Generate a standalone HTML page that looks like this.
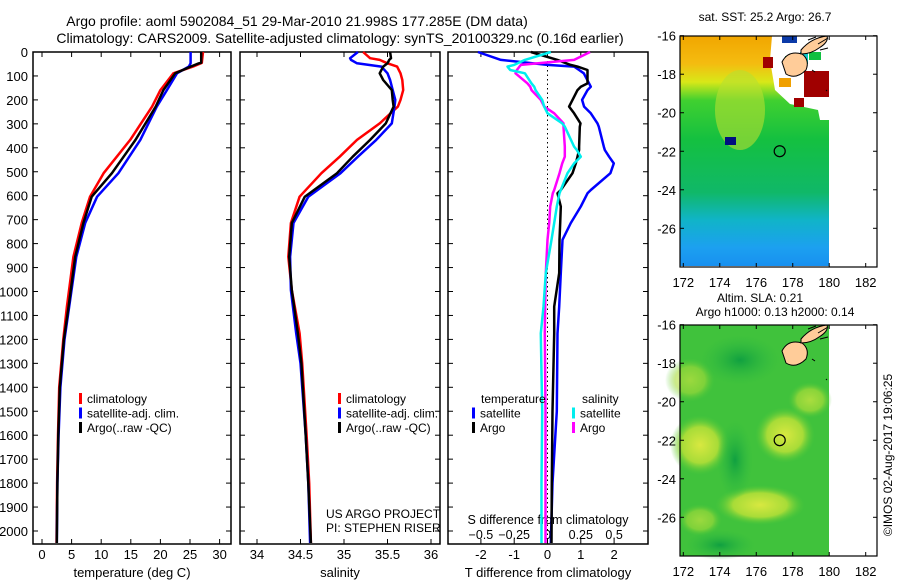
<!DOCTYPE html>
<html><head><meta charset="utf-8"><style>
html,body{margin:0;padding:0;background:#fff}
svg{display:block;font-family:"Liberation Sans",sans-serif}
</style></head><body>
<svg id="c" width="900" height="580" xmlns="http://www.w3.org/2000/svg">
<defs>
<linearGradient id="sstg" x1="0" y1="0" x2="0" y2="1">
<stop offset="0" stop-color="#f2a600"/><stop offset="0.12" stop-color="#f4bc10"/>
<stop offset="0.2" stop-color="#d8e818"/><stop offset="0.28" stop-color="#40d030"/>
<stop offset="0.45" stop-color="#14c040"/><stop offset="0.68" stop-color="#10b868"/>
<stop offset="0.8" stop-color="#10b4c8"/><stop offset="0.92" stop-color="#1ca0f0"/><stop offset="1" stop-color="#1890f0"/>
</linearGradient>
<radialGradient id="yb"><stop offset="0" stop-color="#d8e840"/><stop offset="0.6" stop-color="#a8dc38"/><stop offset="1" stop-color="#50c838" stop-opacity="0"/></radialGradient>
<radialGradient id="dg"><stop offset="0" stop-color="#10a040"/><stop offset="1" stop-color="#30bc40" stop-opacity="0"/></radialGradient>
</defs>
<g id="titles" font-size="14" text-anchor="middle">
<text x="297" y="26">Argo profile: aoml 5902084_51 29-Mar-2010 21.998S 177.285E (DM data)</text>
<text x="340" y="43">Climatology: CARS2009. Satellite-adjusted climatology: synTS_20100329.nc (0.16d earlier)</text>
</g>
<g id="plots"></g>
</svg>
<script>
const depthT=[0,45,47,61,89,159,228,367,506,604,714,855,1063,1200,1400,1600,1800,2050];
const tempClim=[27.2,27.0,26.8,25.5,22.2,20.0,18.6,14.9,10.4,8.1,6.7,5.3,4.2,3.6,2.9,2.7,2.55,2.45];
const tempSat=[25.1,25.1,25.1,24.8,22.8,21.1,19.4,16.6,12.9,9.3,7.3,5.8,4.6,3.8,3.1,2.8,2.6,2.5];
const tempArgo=[26.9,26.9,26.5,25.1,22.5,20.5,19.2,15.8,11.8,8.4,7.0,5.6,4.5,3.7,3.0,2.75,2.6,2.5];
const depthS=[0,26,33,47,61,89,117,159,200,228,298,367,437,506,604,714,855,994,1175,1300,1600,1800,2050];
const salClim=[35.22,35.3,35.41,35.5,35.61,35.65,35.67,35.68,35.65,35.62,35.41,35.15,34.95,34.74,34.49,34.39,34.36,34.40,34.49,34.52,34.57,34.6,34.62];
const salSat=[35.16,35.07,35.08,35.15,35.43,35.5,35.53,35.56,35.59,35.58,35.55,35.37,35.16,34.96,34.59,34.42,34.38,34.39,34.45,34.5,34.56,34.59,34.61];
const salArgo=[35.53,35.54,35.52,35.5,35.45,35.41,35.45,35.55,35.56,35.57,35.48,35.30,35.1,34.92,34.55,34.40,34.37,34.40,34.47,34.51,34.56,34.59,34.62];
const depthD=[0,33,54,61,75,89,131,145,159,200,228,256,298,312,395,409,437,465,506,576,590,645,714,784,923,1063,1175,1500,1800,2050];
const tdiffSat=[-2.09,-1.4,0,0.8,0.95,1.09,1.25,1.3,1.2,1.04,1.1,1.3,1.5,1.54,1.69,1.72,1.85,1.99,1.89,1.3,1.2,1.0,0.7,0.45,0.4,0.35,0.3,0.28,0.15,0.1];
const tdiffArgo=[-0.5,0.3,0.69,0.9,1.2,1.2,1.2,1.0,0.9,0.75,0.65,0.8,0.99,0.97,0.95,0.95,0.9,0.85,0.75,0.4,0.3,0.4,0.38,0.36,0.35,0.2,0.2,0.15,0.13,0.12];
const sdiffSat=[0.025,-0.17,-0.25,-0.30,-0.28,-0.17,-0.12,-0.1,-0.09,-0.04,-0.025,0.0,0.11,0.13,0.2,0.22,0.25,0.2,0.15,0.1,0.09,0.07,0.05,0.03,-0.013,-0.03,-0.05,-0.04,-0.045,-0.045];
const sdiffArgo=[0.32,0.2,-0.2,-0.21,-0.23,-0.24,-0.15,-0.13,-0.12,-0.05,-0.025,0.05,0.12,0.12,0.13,0.13,0.13,0.11,0.09,0.05,0.04,0.02,0.013,0.0,-0.013,-0.017,-0.02,-0.015,-0.015,-0.015];
const depthTicks=[0,100,200,300,400,500,600,700,800,900,1000,1100,1200,1300,1400,1500,1600,1700,1800,1900,2000];
const tempTicks=[0,5,10,15,20,25,30];
const salTicks=[34,34.5,35,35.5,36];
const tdTicks=[-2,-1,0,1,2];
const sdTicks=[-0.5,-0.25,0,0.25,0.5];
const sdTickLabels=["\u22120.5","\u22120.25","0","0.25","0.5"];
const lonTicks=[172,174,176,178,180,182];
const latTicks=[-16,-18,-20,-22,-24,-26];

const NS='http://www.w3.org/2000/svg';
const root=document.getElementById('plots');
function mk(tag,attrs,parent,txt){const e=document.createElementNS(NS,tag);for(const k in attrs)e.setAttribute(k,attrs[k]);if(txt!==undefined)e.textContent=txt;(parent||root).appendChild(e);return e;}
const yD=d=>52+d*0.2395;
const xT=t=>42+t*5.92;
const xS=s=>257+(s-34)*87;
const xTD=v=>547.5+v*33.3;
const xSD=v=>547.5+v*133.2;
const xLon=l=>683.3+(l-172)*18.24;
const yLat1=l=>35.7+(-16-l)*19.26;
const yLat2=l=>324.7+(-16-l)*19.26;

function frame(x0,x1,name){
  const g=mk('g',{});
  
  
  mk('rect',{x:x0,y:52,width:x1-x0,height:492,fill:'none',stroke:'#000','stroke-width':1.5},g);
  depthTicks.forEach(d=>{mk('line',{x1:x0,x2:x0+5,y1:yD(d),y2:yD(d),stroke:'#000'},g);mk('line',{x1:x1,x2:x1-5,y1:yD(d),y2:yD(d),stroke:'#000'},g);});
  return g;
}
function line(g,xs,ys,fx,color,name,w){
  const p=xs.map((v,i)=>fx(v).toFixed(1)+','+yD(ys[i]).toFixed(1)).join(' ');
  const e=mk('polyline',{points:p,fill:'none',stroke:color,'stroke-width':w||2.5,'stroke-linejoin':'round'},g);
  
  
}
function xticks(g,ticks,fx,labels,yl,ytick){
  ticks.forEach((t,i)=>{mk('line',{x1:fx(t),x2:fx(t),y1:52,y2:57,stroke:'#000'},g);mk('line',{x1:fx(t),x2:fx(t),y1:ytick,y2:ytick-5,stroke:'#000'},g);
    const e=mk('text',{x:fx(t),y:yl,'font-size':13,'text-anchor':'middle'},g,labels?labels[i]:String(t));
    });
}
function legend(g,x,y,items){
  items.forEach((it,i)=>{mk('rect',{x:x,y:y+i*14.5-10,width:3,height:11,fill:it[1]},g);
    const e=mk('text',{x:x+8,y:y+i*14.5,'font-size':12},g,it[0]);
    });
}

// Panel 1
const g1=frame(33,231,'temperature-panel');
depthTicks.forEach(d=>{const e=mk('text',{x:28,y:yD(d)+5,'font-size':13,'text-anchor':'end'},g1,String(d));});
xticks(g1,tempTicks,xT,null,559,544);
let t=mk('text',{x:132,y:577,'font-size':13,'text-anchor':'middle'},g1,'temperature (deg C)');
line(g1,tempClim,depthT,xT,'#f00','temp-climatology-line');
line(g1,tempSat,depthT,xT,'#00f','temp-satellite-line');
line(g1,tempArgo,depthT,xT,'#000','temp-argo-line');
legend(g1,79,403,[['climatology','#f00'],['satellite-adj. clim.','#00f'],['Argo(..raw -QC)','#000']]);

// Panel 2
const g2=frame(240,440,'salinity-panel');
xticks(g2,salTicks,xS,null,559,544);
t=mk('text',{x:340,y:577,'font-size':13,'text-anchor':'middle'},g2,'salinity');
line(g2,salClim,depthS,xS,'#f00','sal-climatology-line');
line(g2,salSat,depthS,xS,'#00f','sal-satellite-line');
line(g2,salArgo,depthS,xS,'#000','sal-argo-line');
legend(g2,338,403,[['climatology','#f00'],['satellite-adj. clim.','#00f'],['Argo(..raw -QC)','#000']]);
t=mk('text',{x:326,y:518,'font-size':12},g2,'US ARGO PROJECT');
t=mk('text',{x:326,y:532,'font-size':12},g2,'PI: STEPHEN RISER');

// Panel 3
const g3=frame(448,648,'difference-panel');
mk('line',{x1:547.5,x2:547.5,y1:52,y2:544,stroke:'#000','stroke-dasharray':'1.5,3'},g3);
xticks(g3,tdTicks,xTD,null,559,544);
sdTicks.forEach((v,i)=>{const e=mk('text',{x:xSD(v),y:539,'font-size':12.5,'text-anchor':'middle'},g3,sdTickLabels[i]);});
t=mk('text',{x:548,y:524,'font-size':12.5,'text-anchor':'middle'},g3,'S difference from climatology');
t=mk('text',{x:548,y:577,'font-size':13,'text-anchor':'middle'},g3,'T difference from climatology');
line(g3,tdiffSat,depthD,xTD,'#00f','tdiff-satellite-line');
line(g3,tdiffArgo,depthD,xTD,'#000','tdiff-argo-line');
line(g3,sdiffArgo,depthD,xSD,'#f0f','sdiff-argo-line');
line(g3,sdiffSat,depthD,xSD,'#0ee','sdiff-satellite-line');
t=mk('text',{x:481,y:403,'font-size':12},g3,'temperature');
t=mk('text',{x:582,y:403,'font-size':12},g3,'salinity');
legend(g3,472,417.5,[['satellite','#00f'],['Argo','#000']]);
legend(g3,572,417.5,[['satellite','#0ee'],['Argo','#f0f']]);

// Maps
function mapFrame(y0,name,title1,title2){
  const g=mk('g',{});
  
  
  if(title2){mk('text',{x:760,y:y0-23,'font-size':12,'text-anchor':'middle'},g,title1);mk('text',{x:775,y:y0-9,'font-size':12,'text-anchor':'middle'},g,title2);}
  else mk('text',{x:765,y:y0-15,'font-size':12,'text-anchor':'middle'},g,title1);
  return g;
}
function mapAxes(g,y0,yLat){
  mk('rect',{x:680,y:y0,width:197,height:231,fill:'none',stroke:'#000','stroke-width':1.2},g);
  lonTicks.forEach(l=>{mk('line',{x1:xLon(l),x2:xLon(l),y1:y0,y2:y0+4,stroke:'#000'},g);mk('line',{x1:xLon(l),x2:xLon(l),y1:y0+231,y2:y0+227,stroke:'#000'},g);
    const e=mk('text',{x:xLon(l),y:y0+251,'font-size':13,'text-anchor':'middle'},g,String(l));});
  latTicks.forEach(l=>{mk('line',{x1:680,x2:684,y1:yLat(l),y2:yLat(l),stroke:'#000'},g);mk('line',{x1:877,x2:873,y1:yLat(l),y2:yLat(l),stroke:'#000'},g);
    const e=mk('text',{x:676,y:yLat(l)+5,'font-size':13,'text-anchor':'end'},g,String(l));});
}
function fiji(g,dy){
  mk('path',{d:'M782 '+(62+dy)+' q6 -12 20 -8 q8 6 4 16 q-10 10 -20 4 z',fill:'#ffcc99',stroke:'#000','stroke-width':1},g);
  mk('path',{d:'M801 '+(50+dy)+' q10 -12 26 -14 q2 6 -8 12 q-8 6 -18 6 z',fill:'#ffcc99',stroke:'#000','stroke-width':1},g);
  mk('path',{d:'M808 '+(40+dy)+' l8 -3 M818 '+(44+dy)+' l10 -6 M820 '+(50+dy)+' l8 -2 M812 '+(70+dy)+' l3 2 M826 '+(90+dy)+' l1 1',stroke:'#000','stroke-width':1,fill:'none'},g);
}
const m1=mapFrame(36,'sst-map','sat. SST: 25.2 Argo: 26.7');
mk('rect',{x:680,y:36,width:149,height:230,fill:'url(#sstg)'},m1);
mk('ellipse',{cx:740,cy:110,rx:25,ry:40,fill:'#b8e030',opacity:0.6},m1);
mk('path',{d:'M772 36 L829 36 L829 120 L820 120 L818 110 L790 104 L775 90 L770 60 Z',fill:'#fff'},m1);
mk('rect',{x:804,y:71,width:25,height:26,fill:'#a00000'},m1);
mk('rect',{x:794,y:98,width:10,height:9,fill:'#a00000'},m1);
mk('rect',{x:763,y:57,width:10,height:11,fill:'#a00000'},m1);
mk('rect',{x:782,y:36,width:15,height:7,fill:'#0b3aa8'},m1);
mk('rect',{x:785,y:56,width:12,height:7,fill:'#10c040'},m1);
mk('rect',{x:809,y:52,width:12,height:8,fill:'#10c040'},m1);
mk('rect',{x:800,y:52,width:8,height:12,fill:'#10c8c8'},m1);
mk('rect',{x:779,y:78,width:12,height:9,fill:'#f0a000'},m1);
mk('rect',{x:725,y:137,width:11,height:8,fill:'#001080'},m1);
fiji(m1,0);
mapAxes(m1,36,yLat1);
let c=mk('circle',{cx:xLon(177.285),cy:yLat1(-21.998),r:5.5,fill:'none',stroke:'#000','stroke-width':1.2},m1);


const m2=mapFrame(325,'sla-map','Altim. SLA: 0.21','Argo h1000: 0.13 h2000: 0.14');
mk('rect',{x:680,y:325,width:149,height:231,fill:'#40c23c'},m2);
mk('ellipse',{cx:700,cy:445,rx:30,ry:30,fill:'url(#yb)'},m2);
mk('ellipse',{cx:785,cy:435,rx:30,ry:28,fill:'url(#yb)'},m2);
mk('ellipse',{cx:760,cy:505,rx:45,ry:20,fill:'url(#yb)'},m2);
mk('ellipse',{cx:690,cy:380,rx:25,ry:22,fill:'url(#yb)',opacity:0.6},m2);
mk('ellipse',{cx:810,cy:400,rx:22,ry:18,fill:'url(#yb)',opacity:0.7},m2);
mk('ellipse',{cx:700,cy:520,rx:22,ry:16,fill:'url(#yb)',opacity:0.6},m2);
mk('ellipse',{cx:740,cy:360,rx:40,ry:25,fill:'url(#dg)'},m2);
mk('ellipse',{cx:735,cy:460,rx:18,ry:40,fill:'url(#dg)'},m2);
mk('ellipse',{cx:720,cy:545,rx:35,ry:15,fill:'url(#dg)'},m2);
fiji(m2,289);
mapAxes(m2,325,yLat2);
c=mk('circle',{cx:xLon(177.285),cy:yLat2(-21.998),r:5.5,fill:'none',stroke:'#000','stroke-width':1.2},m2);


t=mk('text',{x:0,y:0,'font-size':12,'text-anchor':'middle',transform:'translate(892,455) rotate(-90)'});

t.textContent='\u00a9IMOS 02-Aug-2017 19:06:25';
</script>
</body></html>
